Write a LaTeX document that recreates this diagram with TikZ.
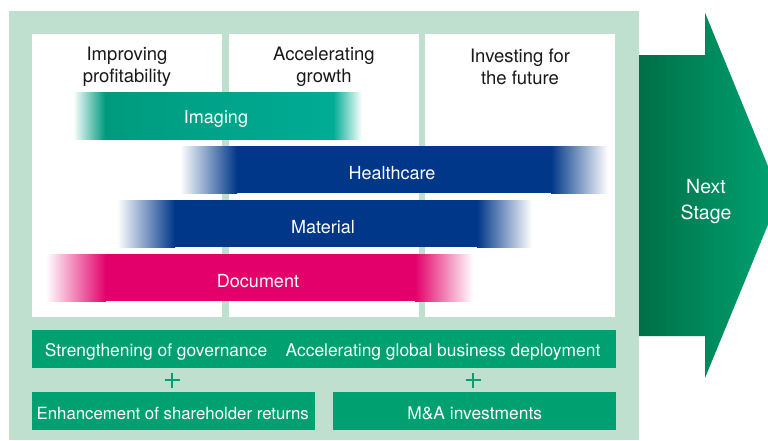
\documentclass[tikz,border=0pt]{standalone}
\usepackage{fontspec}
\setmainfont{TeX Gyre Heros}
\definecolor{bgl}{HTML}{BFE0CE}
\definecolor{gbar}{HTML}{00A070}
\definecolor{imgc}{HTML}{009B7E}
\definecolor{imgr}{HTML}{00AC94}
\definecolor{bluec}{HTML}{003788}
\definecolor{docc}{HTML}{E3006A}
\definecolor{arrl}{HTML}{006F47}
\definecolor{arrr}{HTML}{00A472}
\definecolor{txt}{HTML}{1A1A1A}
\tikzset{
  panel/.style={fill=white, draw=none, inner sep=0pt, anchor=north west},
  hdr/.style={font=\fontsize{18.5}{22}\selectfont, align=center, text=txt, inner sep=0pt},
  barlbl/.style={font=\fontsize{18}{20}\selectfont, text=white, inner sep=0pt},
  gbox/.style={fill=gbar, draw=none, inner sep=0pt, anchor=north west},
  btxt/.style={font=\fontsize{17.4}{20}\selectfont, text=white, inner sep=0pt},
  btxtsm/.style={font=\fontsize{16.8}{20}\selectfont, text=white, inner sep=0pt},
  plusmark/.style={draw=gbar, line width=2.6pt},
  nxt/.style={font=\fontsize{19.5}{26}\selectfont, text=white, align=center, inner sep=0pt}
}
\begin{document}
\begin{tikzpicture}[x=1pt,y=-1pt]
\clip (0,0) rectangle (768,440);
\fill[white] (0,0) rectangle (768,440);
% light green background
\fill[bgl] (9,11) rectangle (639,440);
% panels
\node[panel, minimum width=190, minimum height=283] (p1) at (32,34) {};
\node[panel, minimum width=190, minimum height=283] (p2) at (229,34) {};
\node[panel, minimum width=190, minimum height=283] (p3) at (425,34) {};
% headers
\node[hdr] (h1) at (127,66.5) {Improving\\profitability};
\node[hdr] (h2) at (324,66.5) {Accelerating\\growth};
\node[hdr] (h3) at (520,66.5) {Investing for\\the future};
% Imaging
\shade[left color=white, right color=imgc] (73,92) rectangle (105,139);
\shade[left color=imgc, right color=imgr] (105,92) rectangle (333,139);
\shade[left color=imgr, right color=white] (333,92) rectangle (362,139);
\node[barlbl] (imaging) at (216,119) {Imaging};
% Healthcare
\shade[left color=white, right color=bluec] (180,146) rectangle (237,193);
\fill[bluec] (237,146) rectangle (551,193);
\shade[left color=bluec, right color=white] (551,146) rectangle (608,193);
\node[barlbl] (health) at (392,173) {Healthcare};
% Material
\shade[left color=white, right color=bluec] (117,200) rectangle (175,247);
\fill[bluec] (175,200) rectangle (477,247);
\shade[left color=bluec, right color=white] (477,200) rectangle (532,247);
\node[barlbl] (material) at (323,227) {Material};
% Document
\shade[left color=white, right color=docc] (46,254) rectangle (106,301);
\fill[docc] (106,254) rectangle (415,301);
\shade[left color=docc, right color=white] (415,254) rectangle (473,301);
\node[barlbl] (document) at (258,281) {Document};
% bottom boxes
\node[gbox, minimum width=584, minimum height=38] (gov) at (32,330) {};
\node[btxt] (govt) at (156,352) {Strengthening of governance};
\node[btxt] (glob) at (443,352) {Accelerating global business deployment};
\coordinate (pl1) at (172,380);
\coordinate (pl2) at (473,380);
\draw[plusmark] ([xshift=-7.5pt]pl1) -- ([xshift=7.5pt]pl1) ([yshift=-7.5pt]pl1) -- ([yshift=7.5pt]pl1);
\draw[plusmark] ([xshift=-7.5pt]pl2) -- ([xshift=7.5pt]pl2) ([yshift=-7.5pt]pl2) -- ([yshift=7.5pt]pl2);
\node[gbox, minimum width=283, minimum height=38] (share) at (32,392) {};
\node[btxtsm] at ([xshift=-1pt,yshift=-2pt]share.center) {Enhancement of shareholder returns};
\node[gbox, minimum width=283, minimum height=38] (ma) at (333,392) {};
\node[btxt] at ([yshift=-2pt]ma.center) {M\&A investments};
% arrow
\shade[left color=arrl, right color=arrr]
  (639,55) -- (705,55) -- (705,12.7) -- (780,195.4) -- (705,378) -- (705,336) -- (639,336) -- cycle;
\node[nxt] (next) at (706,202) {Next\\Stage};
\end{tikzpicture}
\end{document}
